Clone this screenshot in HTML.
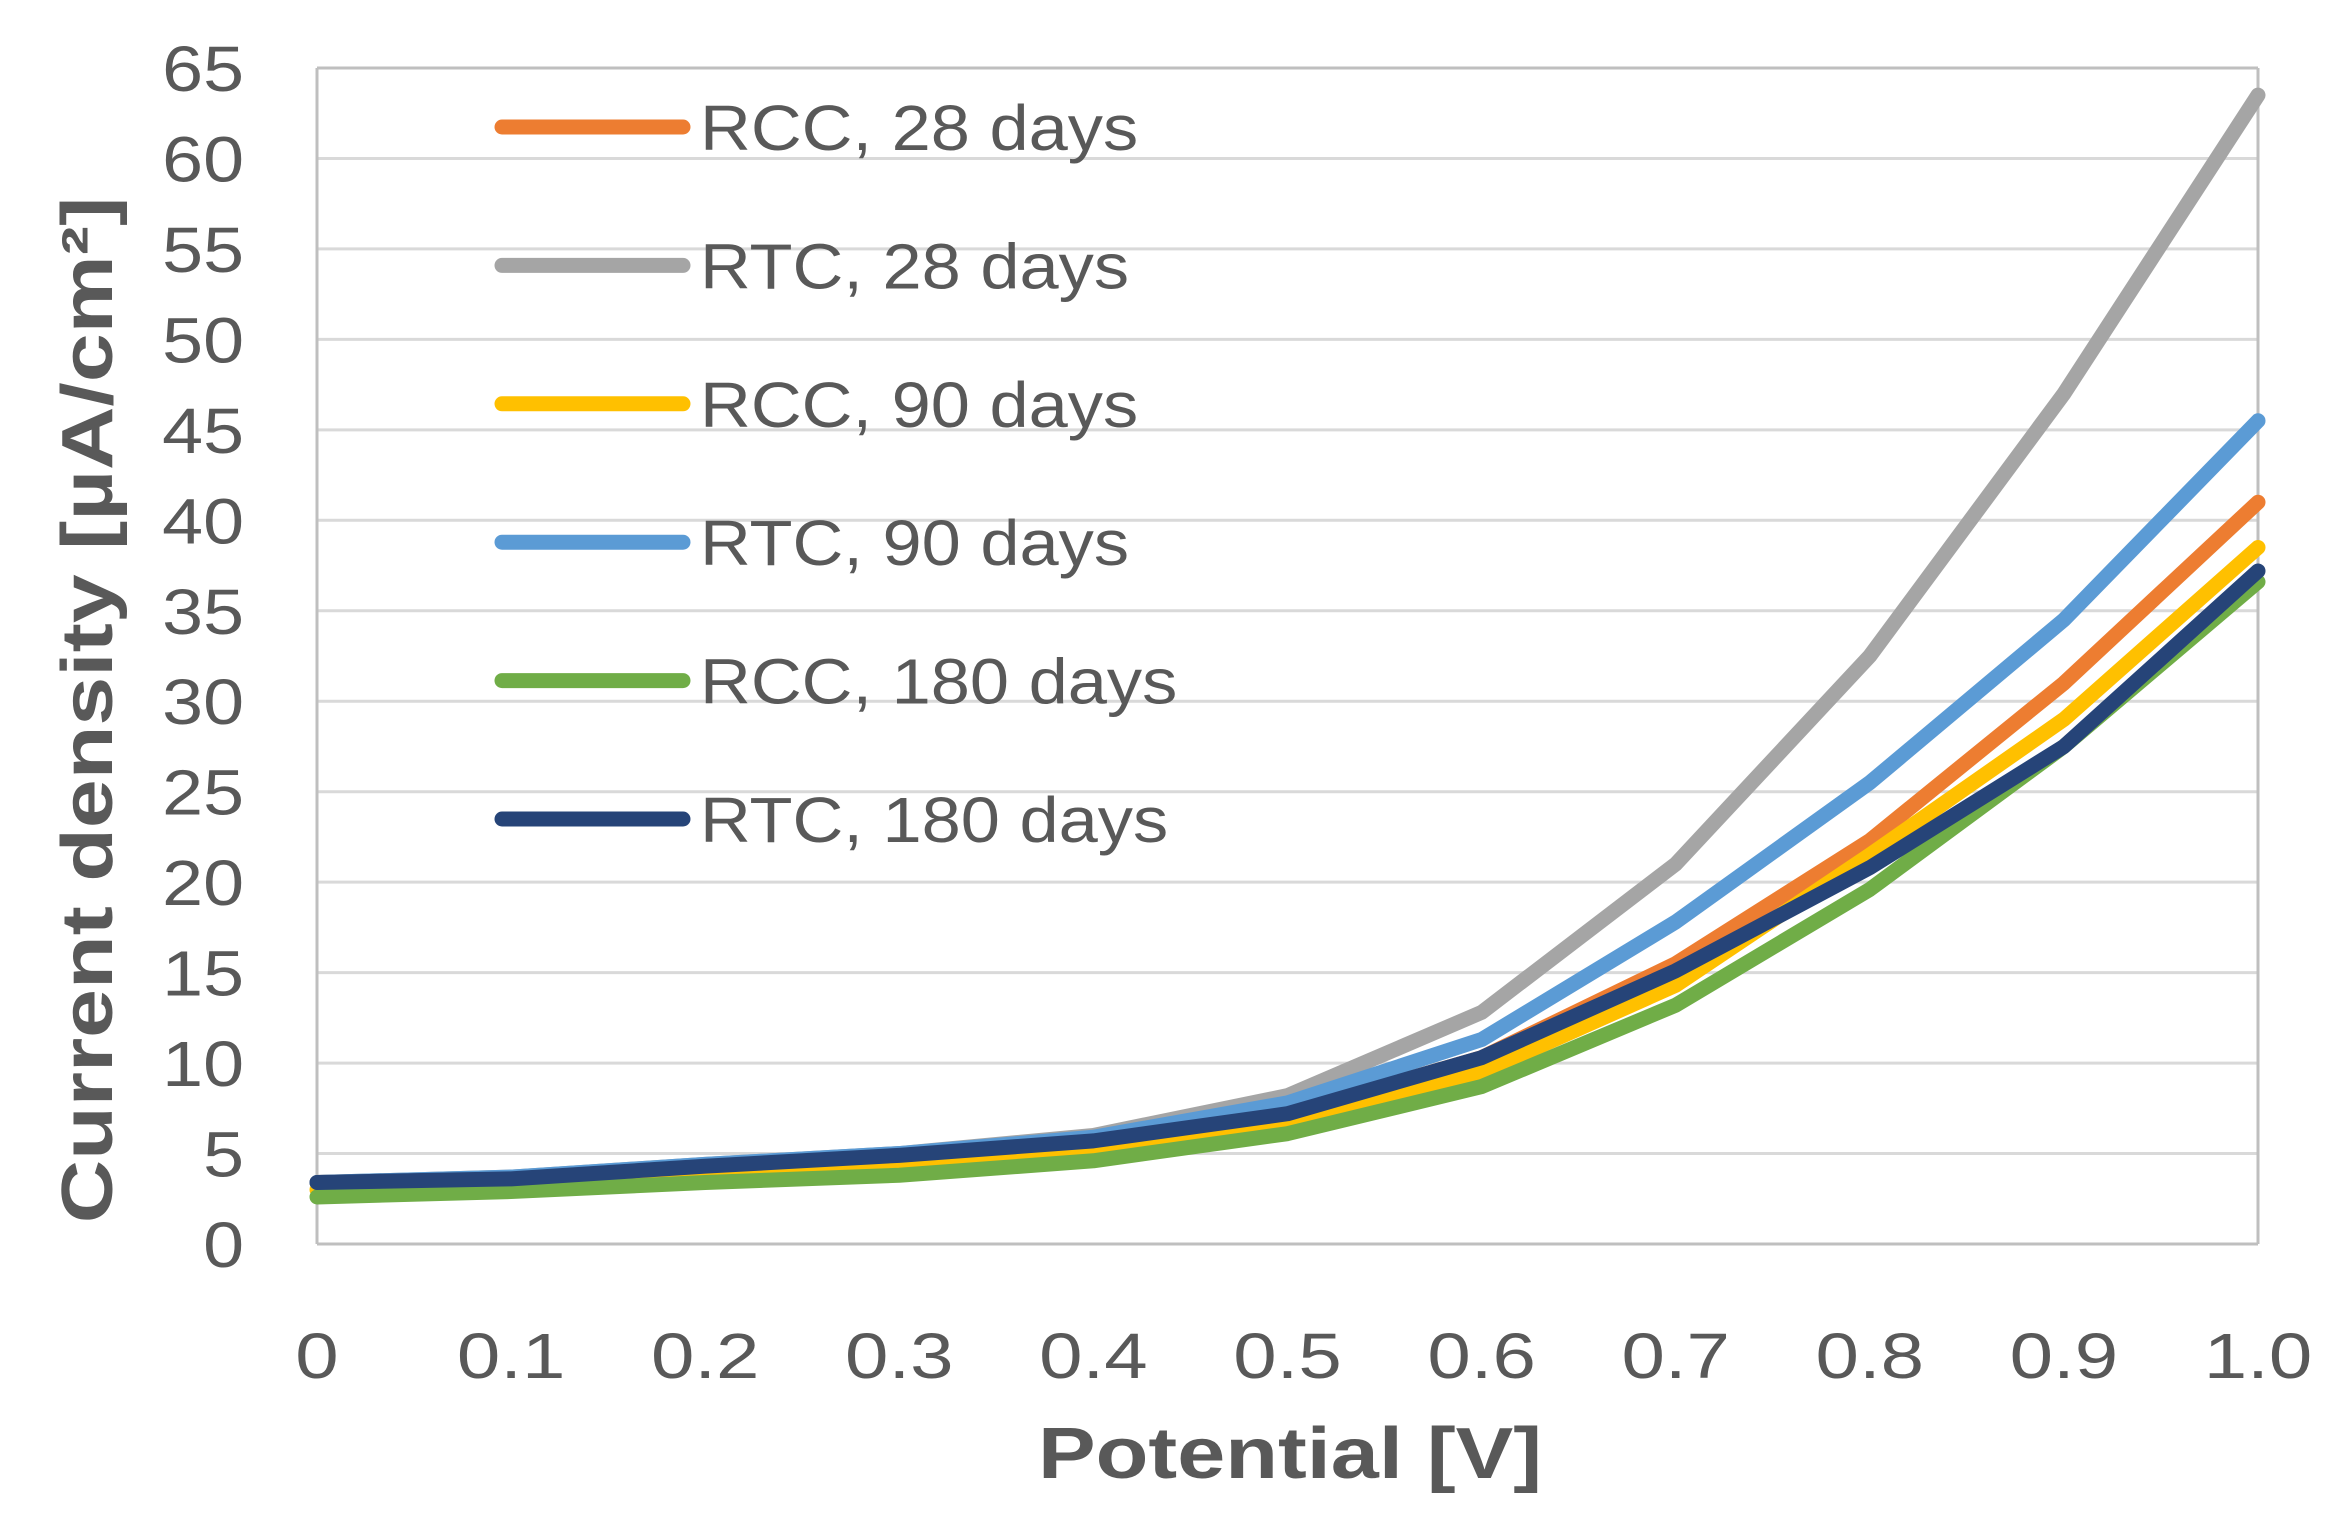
<!DOCTYPE html>
<html><head><meta charset="utf-8"><style>
html,body{margin:0;padding:0;background:#fff;}
svg{display:block;font-family:"Liberation Sans","DejaVu Sans",sans-serif;}
</style></head><body>
<svg id="chart" width="2334" height="1527" viewBox="0 0 2334 1527" xmlns="http://www.w3.org/2000/svg">
<g id="grid"></g>
<g id="yticks"></g>
<g id="xticks"></g>
<g id="series"></g>
<g id="legend"></g>
<text transform="translate(1290,1478) scale(1.2,1)" text-anchor="middle" font-size="72" font-weight="bold" fill="#595959">Potential [V]</text>
<text transform="translate(112,710) rotate(-90) scale(1.22,1)" text-anchor="middle" font-size="72" font-weight="bold" fill="#595959">Current density [µA/cm²]</text>
</svg>
<script>
const xValues = [0,0.1,0.2,0.3,0.4,0.5,0.6,0.7,0.8,0.9,1.0];
const xTickLabels = ["0","0.1","0.2","0.3","0.4","0.5","0.6","0.7","0.8","0.9","1.0"];
const yTickValues = [0,5,10,15,20,25,30,35,40,45,50,55,60,65];
const seriesNames = ["RCC, 28 days","RTC, 28 days","RCC, 90 days","RTC, 90 days","RCC, 180 days","RTC, 180 days"];
const seriesColors = ["#ED7D31","#A5A5A5","#FFC000","#5B9BD5","#70AD47","#264478"];
const rcc28 = [3.4,3.6,4.3,4.9,5.7,7.2,10.3,15.5,22.3,31,41];
const rtc28 = [3.4,3.7,4.4,5.0,6.0,8.2,12.8,21,32.5,47,63.5];
const rcc90 = [3.0,3.2,3.8,4.3,5.1,6.7,9.5,14.3,21.5,29,38.5];
const rtc90 = [3.4,3.7,4.4,5.0,5.9,7.8,11.3,17.8,25.5,34.5,45.5];
const rcc180 = [2.6,2.9,3.4,3.8,4.6,6.1,8.7,13.2,19.6,27.5,36.6];
const rtc180 = [3.4,3.6,4.3,4.9,5.7,7.2,10.3,15.1,20.8,27.5,37.2];
const seriesData = [rcc28,rtc28,rcc90,rtc90,rcc180,rtc180];

const NS="http://www.w3.org/2000/svg";
const L=317,R=2258,T=68,B=1244;
const xs=v=>L+(v-0)/(1-0)*(R-L);
const ys=v=>B-(v/65)*(B-T);
function mk(tag,parent){const e=document.createElementNS(NS,tag);parent.appendChild(e);return e;}
const grid=document.getElementById('grid');
yTickValues.forEach(v=>{
  const ln=mk('line',grid);
  
  
  ln.setAttribute('x1',L);ln.setAttribute('x2',R);ln.setAttribute('y1',ys(v));ln.setAttribute('y2',ys(v));
  ln.setAttribute('stroke',(v===0||v===65)?'#bfbfbf':'#d9d9d9');ln.setAttribute('stroke-width',3);
  const t=mk('text',document.getElementById('yticks'));
  
  
  t.setAttribute('transform','translate(244,'+(ys(v)+23)+') scale(1.15,1)');
  t.setAttribute('text-anchor','end');
  t.setAttribute('font-size',64);t.setAttribute('fill','#595959');t.textContent=v;
});
[L,R].forEach(x=>{const ln=mk('line',grid);
  
  
  ln.setAttribute('x1',x);ln.setAttribute('x2',x);ln.setAttribute('y1',T);ln.setAttribute('y2',B);
  ln.setAttribute('stroke','#bfbfbf');ln.setAttribute('stroke-width',3);});
xValues.forEach((v,i)=>{
  const t=mk('text',document.getElementById('xticks'));
  
  
  t.setAttribute('transform','translate('+xs(v)+',1378) scale(1.22,1)');
  t.setAttribute('text-anchor','middle');
  t.setAttribute('font-size',64);t.setAttribute('fill','#595959');t.textContent=xTickLabels[i];
});
const sg=document.getElementById('series');
seriesData.forEach((d,k)=>{
  const p=mk('polyline',sg);
  
  
  p.setAttribute('points',d.map((v,i)=>xs(xValues[i])+','+ys(v)).join(' '));
  p.setAttribute('fill','none');p.setAttribute('stroke',seriesColors[k]);
  p.setAttribute('stroke-width',15);p.setAttribute('stroke-linejoin','round');p.setAttribute('stroke-linecap','round');
});
const lg=document.getElementById('legend');
seriesNames.forEach((n,k)=>{
  const y=127+k*138.4;
  const ln=mk('line',lg);
  
  
  ln.setAttribute('x1',502);ln.setAttribute('x2',683);ln.setAttribute('y1',y);ln.setAttribute('y2',y);
  ln.setAttribute('stroke',seriesColors[k]);ln.setAttribute('stroke-width',15);ln.setAttribute('stroke-linecap','round');
  const t=mk('text',lg);
  
  
  t.setAttribute('transform','translate(700,'+(y+23)+') scale(1.1,1)');
  t.setAttribute('font-size',64);t.setAttribute('fill','#595959');
  t.textContent=n;
});
</script>
</body></html>
